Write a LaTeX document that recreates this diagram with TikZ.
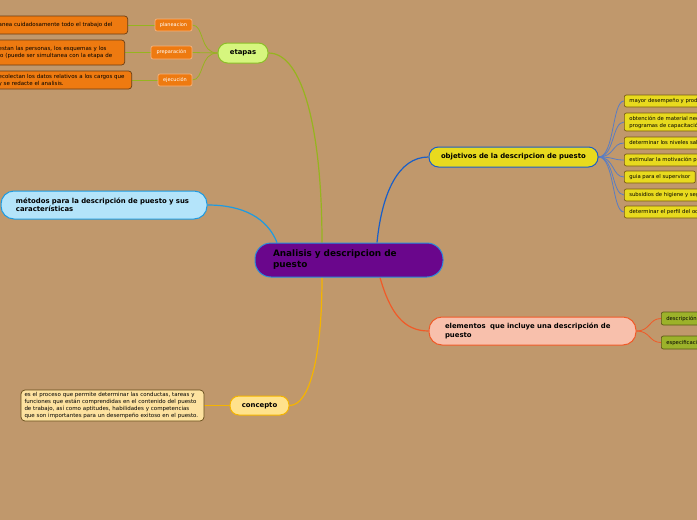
\documentclass[tikz,border=0pt]{standalone}
\usepackage{fontspec}
\setmainfont{DejaVu Sans}
\usetikzlibrary{calc}
\definecolor{bgc}{RGB}{192,152,108}
\definecolor{cpurple}{RGB}{106,6,140}
\definecolor{cblueA}{RGB}{40,140,220}
\definecolor{cgreenL}{RGB}{214,246,126}
\definecolor{cgreen}{RGB}{140,190,40}
\definecolor{clinegreen}{RGB}{150,180,30}
\definecolor{cyellow}{RGB}{232,218,30}
\definecolor{cdblue}{RGB}{25,95,200}
\definecolor{citemline}{RGB}{90,125,195}
\definecolor{cbrownY}{RGB}{120,90,20}
\definecolor{clblue}{RGB}{180,228,250}
\definecolor{cmblue}{RGB}{30,155,225}
\definecolor{csalmon}{RGB}{248,192,172}
\definecolor{cred}{RGB}{240,90,40}
\definecolor{colive}{RGB}{156,178,42}
\definecolor{cdolive}{RGB}{90,88,20}
\definecolor{clyellow}{RGB}{255,226,140}
\definecolor{camber}{RGB}{245,180,0}
\definecolor{ccream}{RGB}{253,226,160}
\definecolor{cdbrown}{RGB}{100,75,25}
\definecolor{corange}{RGB}{238,122,16}
\definecolor{corangeB}{RGB}{248,178,122}
\definecolor{cobrown}{RGB}{105,60,20}
\pgfdeclarelayer{back}
\pgfsetlayers{back,main}
\tikzset{
  topic/.style={line width=1pt, inner sep=0pt, align=left, font=\bfseries\fontsize{6.9}{8.5}\selectfont},
  smalltxt/.style={inner xsep=4pt, inner ysep=0pt, align=left, font=\fontsize{5.5}{7}\selectfont, line width=0.7pt},
  yitem/.style={smalltxt, fill=cyellow, draw=cbrownY, rounded corners=2pt, anchor=west, inner xsep=5pt, minimum height=12pt, font=\fontsize{5.3}{7}\selectfont},
  oitem/.style={smalltxt, fill=colive, draw=cdolive, rounded corners=2pt, anchor=west, inner xsep=5pt, minimum height=13pt, font=\fontsize{5.3}{7}\selectfont},
  otext/.style={smalltxt, fill=corange, draw=cobrown, rounded corners=3pt, anchor=east},
  ostep/.style={smalltxt, fill=corange, draw=corangeB, text=white, rounded corners=2pt, inner xsep=0pt, align=center, font=\fontsize{5}{6}\selectfont},
  mainline/.style={line width=1.2pt},
  subline/.style={line width=0.8pt}
}
\begin{document}
\begin{tikzpicture}[x=1pt,y=-1pt]
\useasboundingbox (0,0) rectangle (697,520);
\begin{pgfonlayer}{back}
\fill[bgc] (0,0) rectangle (697,520);
\end{pgfonlayer}
\clip (0,0) rectangle (697,520);

% central
\node[topic, fill=cpurple, draw=cblueA, rounded corners=16pt, minimum width=188pt, minimum height=34pt, text width=152pt, font=\bfseries\fontsize{8.9}{11}\selectfont] (c) at (349,260) {Analisis y descripcion de\\puesto};

% etapas
\node[topic, fill=cgreenL, draw=cgreen, rounded corners=9.5pt, minimum width=50pt, minimum height=20pt, align=center] (et) at (243,53) {etapas};
\node[ostep, minimum width=37pt, minimum height=12pt] (p1) at (173.5,25) {planeacion};
\node[ostep, minimum width=41pt, minimum height=13pt] (p2) at (171.5,52.5) {preparación};
\node[ostep, minimum width=34pt, minimum height=12pt] (p3) at (175,80) {ejecución};
\node[otext, text width=125pt, minimum height=18pt] (t1) at (128,25) {anea cuidadosamente todo el trabajo del};
\node[otext, text width=122pt, minimum height=25pt] (t2) at (125,52.5) {estan las personas, los esquemas y los\\jo (puede ser simultanea con la etapa de};
\node[otext, text width=129pt, minimum height=18pt] (t3) at (132,80) {ecolectan los datos relativos a los cargos que\\y se redacte el analisis.};

% metodos
\node[topic, fill=clblue, draw=cmblue, rounded corners=13pt, minimum width=206pt, minimum height=28pt, text width=176pt] (m) at (104,205) {métodos para la descripción de puesto y sus\\características};

% objetivos
\node[topic, fill=cyellow, draw=cdblue, rounded corners=9.5pt, minimum width=169pt, minimum height=20pt, text width=145pt] (o) at (513.5,157) {objetivos de la descripcion de puesto};
\node[yitem] (y1) at (624,101) {mayor desempeño y productividad};
\node[yitem, minimum height=18pt] (y2) at (624,122) {obtención de material necesario\\programas de capacitación};
\node[yitem] (y3) at (624,143) {determinar los niveles salariales};
\node[yitem] (y4) at (624,160) {estimular la motivación personal};
\node[yitem] (y5) at (624,177) {guia para el supervisor};
\node[yitem] (y6) at (624,195) {subsidios de higiene y seguridad};
\node[yitem] (y7) at (624,212) {determinar el perfil del ocupante};

% elementos
\node[topic, fill=csalmon, draw=cred, rounded corners=13pt, minimum width=207pt, minimum height=28pt, text width=175pt] (e) at (532.5,331) {elementos\ \ que incluye una descripción de\\puesto};
\node[oitem] (e1) at (661,318.5) {descripción del puesto};
\node[oitem] (e2) at (661,342.5) {especificación del puesto};

% concepto
\node[topic, fill=clyellow, draw=camber, rounded corners=9pt, minimum width=59pt, minimum height=19pt, align=center] (k) at (259.5,405.5) {concepto};
\node[smalltxt, fill=ccream, draw=cdbrown, rounded corners=4pt, minimum width=183pt, minimum height=31pt, text width=176pt, inner xsep=0pt] (kt) at (112.5,405.5) {es el proceso que permite determinar las conductas, tareas y\\funciones que están comprendidas en el contenido del puesto\\de trabajo, así como aptitudes, habilidades y competencias\\que son importantes para un desempeño exitoso en el puesto.};

\begin{pgfonlayer}{back}
% main connectors
\draw[mainline, clinegreen] (et.east) .. controls +(35,0) and +(0,-110) .. ($(c.north)+(-27,0)$);
\draw[mainline, cmblue] (m.east) .. controls +(35,0) and +(-10,-25) .. ($(c.north)+(-72,0)$);
\draw[mainline, cdblue] ($(c.north)+(28,0)$) .. controls +(5,-50) and +(-30,0) .. (o.west);
\draw[mainline, cred] ($(c.south)+(31,0)$) .. controls +(10,35) and +(-25,0) .. (e.west);
\draw[mainline, camber] ($(c.south)+(-27,0)$) .. controls +(0,80) and +(20,0) .. (k.east);
\draw[subline, camber] (k.west) -- (kt.east);
% etapas children
\draw[subline, clinegreen] (et.west) .. controls +(-18,0) and +(12,0) .. (p1.east);
\draw[subline, clinegreen] (et.west) -- (p2.east);
\draw[subline, clinegreen] (et.west) .. controls +(-18,0) and +(12,0) .. (p3.east);
\draw[subline, clinegreen] (p1.west) -- (t1.east);
\draw[subline, clinegreen] (p2.west) -- (t2.east);
\draw[subline, clinegreen] (p3.west) -- (t3.east);
% objetivos children
\foreach \n in {y1,y2,y3,y4,y5,y6,y7}
  \draw[subline, citemline] (o.east) .. controls +(16,0) and +(-12,0) .. (\n.west);
% elementos children
\draw[subline, cred] (e.east) .. controls +(14,0) and +(-12,0) .. (e1.west);
\draw[subline, cred] (e.east) .. controls +(14,0) and +(-12,0) .. (e2.west);
\end{pgfonlayer}
\end{tikzpicture}
\end{document}
